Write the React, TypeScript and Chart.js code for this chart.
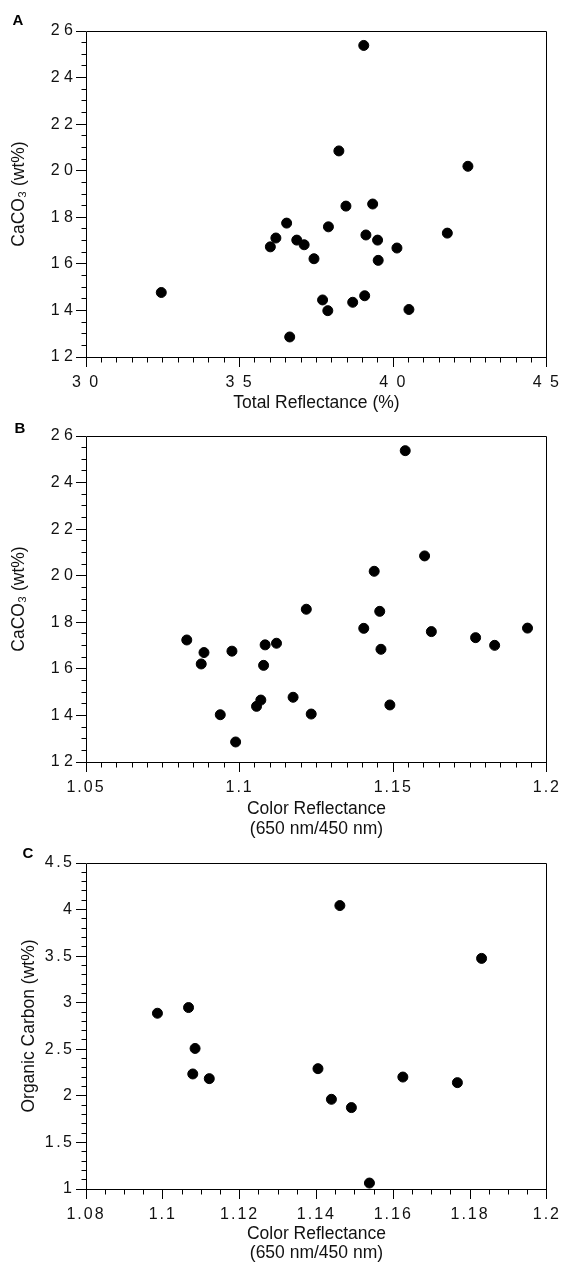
import React, { useEffect, useRef } from 'react';
import { Chart, registerables } from 'chart.js';

Chart.register(...registerables);

// ---------- Panel A data ----------
const totalReflectanceA = [39.04, 38.23, 42.43, 38.46, 39.33, 36.53, 37.89, 36.18, 36.0, 36.86, 37.1, 39.11, 39.49, 41.76, 40.12, 37.42, 39.51, 32.45, 37.7, 37.87, 38.68, 39.07, 40.51, 36.63];
const caco3A = [25.38, 20.85, 20.19, 18.48, 18.57, 17.75, 17.59, 17.11, 16.73, 17.02, 16.82, 17.24, 17.02, 17.32, 16.68, 16.22, 16.15, 14.77, 14.45, 13.99, 14.35, 14.63, 14.04, 12.86];
const xTicksA = [30, 35, 40, 45];
const yTicksA = [12, 14, 16, 18, 20, 22, 24, 26];

// ---------- Panel B data ----------
const colorReflB = [1.1539, 1.1602, 1.1438, 1.1217, 1.1456, 1.1404, 1.1624, 1.1937, 1.1768, 1.183, 1.146, 1.0828, 1.0884, 1.0875, 1.0975, 1.1083, 1.112, 1.1078, 1.1069, 1.1055, 1.1174, 1.0937, 1.1233, 1.1489, 1.0987];
const caco3B = [25.37, 20.85, 20.19, 18.56, 18.47, 17.74, 17.6, 17.75, 17.34, 17.01, 16.84, 17.24, 16.7, 16.21, 16.76, 17.03, 17.1, 16.15, 14.66, 14.39, 14.78, 14.03, 14.06, 14.45, 12.86];
const xTicksB = [1.05, 1.1, 1.15, 1.2];
const yTicksB = [12, 14, 16, 18, 20, 22, 24, 26];

// ---------- Panel C data ----------
const colorReflC = [1.1461, 1.183, 1.0986, 1.1067, 1.1084, 1.1078, 1.1121, 1.1404, 1.1439, 1.1491, 1.1625, 1.1767, 1.1538];
const orgCarbonC = [4.043, 3.476, 2.887, 2.948, 2.509, 2.235, 2.185, 2.292, 1.963, 1.874, 2.202, 2.142, 1.064];
const xTicksC = [1.08, 1.1, 1.12, 1.14, 1.16, 1.18, 1.2];
const yTicksC = [1, 1.5, 2, 2.5, 3, 3.5, 4, 4.5];

const FONT = '"Liberation Sans", Arial, Helvetica, sans-serif';

const spaced = (v: number) => String(v).split('').join(' ');
const plain = (v: number) => String(+Number(v).toFixed(3));

type Panel = {
  letter: string;
  letterX: number;
  letterY: number;
  xs: number[];
  ys: number[];
  xTicks: number[];
  yTicks: number[];
  xMinor: number;
  yMinor: number;
  xFmt: (v: number) => string;
  yFmt: (v: number) => string;
  xLS: number;
  yLS: number;
  yPad: number;
  xTitle: string | string[];
  yTitle: string;
  top: number;
  height: number;
  padTop: number;
  xAxisH: number;
  xTitlePadB: number;
  yTitlePad: number;
};

const panels: Panel[] = [
  {
    letter: 'A', letterX: 18, letterY: 21,
    xs: totalReflectanceA, ys: caco3A,
    xTicks: xTicksA, yTicks: yTicksA, xMinor: 0.5, yMinor: 0.5,
    xFmt: spaced, yFmt: spaced, xLS: 2, yLS: 0, yPad: 3,
    xTitle: 'Total Reflectance (%)', yTitle: 'CaCO\u2083 (wt%)',
    top: 0, height: 416, padTop: 31, xAxisH: 59, xTitlePadB: 3.4, yTitlePad: 8.5,
  },
  {
    letter: 'B', letterX: 20, letterY: 12.5,
    xs: colorReflB, ys: caco3B,
    xTicks: xTicksB, yTicks: yTicksB, xMinor: 0.005, yMinor: 0.5,
    xFmt: plain, yFmt: spaced, xLS: 2, yLS: 0, yPad: 3,
    xTitle: ['Color Reflectance', '(650 nm/450 nm)'], yTitle: 'CaCO\u2083 (wt%)',
    top: 416, height: 423, padTop: 20, xAxisH: 77, xTitlePadB: 0.6, yTitlePad: 8.5,
  },
  {
    letter: 'C', letterX: 28, letterY: 15,
    xs: colorReflC, ys: orgCarbonC,
    xTicks: xTicksC, yTicks: yTicksC, xMinor: 0.005, yMinor: 0.1,
    xFmt: plain, yFmt: plain, xLS: 2, yLS: 2.5, yPad: 1.5,
    xTitle: ['Color Reflectance', '(650 nm/450 nm)'], yTitle: 'Organic Carbon (wt%)',
    top: 839, height: 424, padTop: 24, xAxisH: 74, xTitlePadB: 0, yTitlePad: 18.5,
  },
];

const align = (p: number) => Math.round(p - 0.5) + 0.5;

const framePlugin = {
  id: 'frame',
  beforeDraw(chart: any, _args: any, opts: any) {
    const patch = (scale: any, ls: number) => {
      if (!scale || scale.__lsPatched) return;
      const orig = scale.drawLabels;
      scale.drawLabels = function (area: any) {
        const ctx = this.ctx as any;
        const prev = ctx.letterSpacing;
        ctx.letterSpacing = `${ls}px`;
        orig.call(this, area);
        ctx.letterSpacing = prev || '0px';
      };
      scale.__lsPatched = true;
    };
    patch(chart.scales.x, opts.xLS);
    patch(chart.scales.y, opts.yLS);
  },
  afterDraw(chart: any, _args: any, opts: any) {
    const ctx = chart.ctx as CanvasRenderingContext2D;
    (ctx as any).letterSpacing = '0px';
    const { left, right, top, bottom } = chart.chartArea;
    const L = align(left), R = align(right), T = align(top), B = align(bottom);
    ctx.save();
    ctx.strokeStyle = '#000';
    ctx.lineWidth = 1;
    ctx.beginPath();
    ctx.moveTo(L, T); ctx.lineTo(R, T); ctx.lineTo(R, B); ctx.lineTo(L, B); ctx.closePath();
    ctx.stroke();

    // minor ticks
    const xs = chart.scales.x;
    const ys = chart.scales.y;
    const isMajor = (v: number, majors: number[]) => majors.some((m) => Math.abs(m - v) < 1e-9);
    ctx.beginPath();
    const nx = Math.round((xs.max - xs.min) / opts.xMinor);
    for (let i = 0; i <= nx; i++) {
      const v = xs.min + i * opts.xMinor;
      if (isMajor(v, opts.xTicks)) continue;
      const px = align(xs.getPixelForValue(v));
      ctx.moveTo(px, B);
      ctx.lineTo(px, B + 5);
    }
    const ny = Math.round((ys.max - ys.min) / opts.yMinor);
    for (let i = 0; i <= ny; i++) {
      const v = ys.min + i * opts.yMinor;
      if (isMajor(v, opts.yTicks)) continue;
      const py = align(ys.getPixelForValue(v));
      ctx.moveTo(L, py);
      ctx.lineTo(L - 5, py);
    }
    ctx.stroke();

    // panel letter
    ctx.fillStyle = '#000';
    ctx.font = `bold 15px ${FONT}`;
    ctx.textAlign = 'center';
    ctx.textBaseline = 'middle';
    ctx.fillText(opts.letter, opts.letterX, opts.letterY);
    ctx.restore();
  },
};

function PanelChart({ p }: { p: Panel }) {
  const ref = useRef<HTMLCanvasElement | null>(null);
  useEffect(() => {
    if (!ref.current) return;
    const tickFont = { family: FONT, size: 16 };
    const titleFont = { family: FONT, size: 17.5, lineHeight: 1.1 };
    const chart = new Chart(ref.current, {
      type: 'scatter',
      data: {
        datasets: [
          {
            data: p.xs.map((x, i) => ({ x, y: p.ys[i] })),
            pointRadius: 5,
            pointHoverRadius: 5,
            pointBackgroundColor: '#000',
            pointBorderColor: '#000',
            pointBorderWidth: 1,
            showLine: false,
          },
        ],
      },
      options: {
        responsive: false,
        animation: false,
        devicePixelRatio: 1,
        layout: { padding: { top: p.padTop, right: 17, left: 0, bottom: 0 } },
        plugins: {
          legend: { display: false },
          tooltip: { enabled: false },
          frame: {
            letter: p.letter, letterX: p.letterX, letterY: p.letterY,
            xMinor: p.xMinor, yMinor: p.yMinor, xTicks: p.xTicks, yTicks: p.yTicks,
            xLS: p.xLS, yLS: p.yLS,
          },
        } as any,
        scales: {
          x: {
            type: 'linear',
            position: 'bottom',
            min: p.xTicks[0],
            max: p.xTicks[p.xTicks.length - 1],
            afterBuildTicks: (s: any) => { s.ticks = p.xTicks.map((value) => ({ value })); },
            afterFit: (s: any) => { s.height = p.xAxisH; },
            grid: { display: true, drawOnChartArea: false, drawTicks: true, tickLength: 10, tickColor: '#000', tickWidth: 1 },
            border: { display: false },
            ticks: {
              padding: 6,
              color: '#111',
              font: tickFont,
              maxRotation: 0,
              autoSkip: false,
              callback: (v: any) => p.xFmt(Number(v)),
            },
            title: {
              display: true,
              text: p.xTitle,
              color: '#111',
              font: titleFont,
              padding: { top: 0, bottom: p.xTitlePadB },
            },
          },
          y: {
            type: 'linear',
            position: 'left',
            min: p.yTicks[0],
            max: p.yTicks[p.yTicks.length - 1],
            afterBuildTicks: (s: any) => { s.ticks = p.yTicks.map((value) => ({ value })); },
            afterFit: (s: any) => { s.width = 86; },
            grid: { display: true, drawOnChartArea: false, drawTicks: true, tickLength: 10, tickColor: '#000', tickWidth: 1 },
            border: { display: false },
            ticks: {
              padding: p.yPad,
              color: '#111',
              font: tickFont,
              autoSkip: false,
              callback: (v: any) => p.yFmt(Number(v)),
            },
            title: {
              display: true,
              text: p.yTitle,
              color: '#111',
              font: { family: FONT, size: 17.5 },
              padding: { top: p.yTitlePad, bottom: 0 },
            },
          },
        },
      } as any,
      plugins: [framePlugin as any],
    });
    return () => chart.destroy();
  }, [p]);
  return (
    <canvas
      ref={ref}
      width={564}
      height={p.height}
      style={{ position: 'absolute', left: 0, top: p.top, width: 564, height: p.height, display: 'block' }}
    />
  );
}

export default function App() {
  return (
    <div style={{ position: 'absolute', left: 0, top: 0, width: 564, height: 1263, background: '#fff', overflow: 'hidden' }}>
      {panels.map((p) => (
        <PanelChart key={p.letter} p={p} />
      ))}
    </div>
  );
}
